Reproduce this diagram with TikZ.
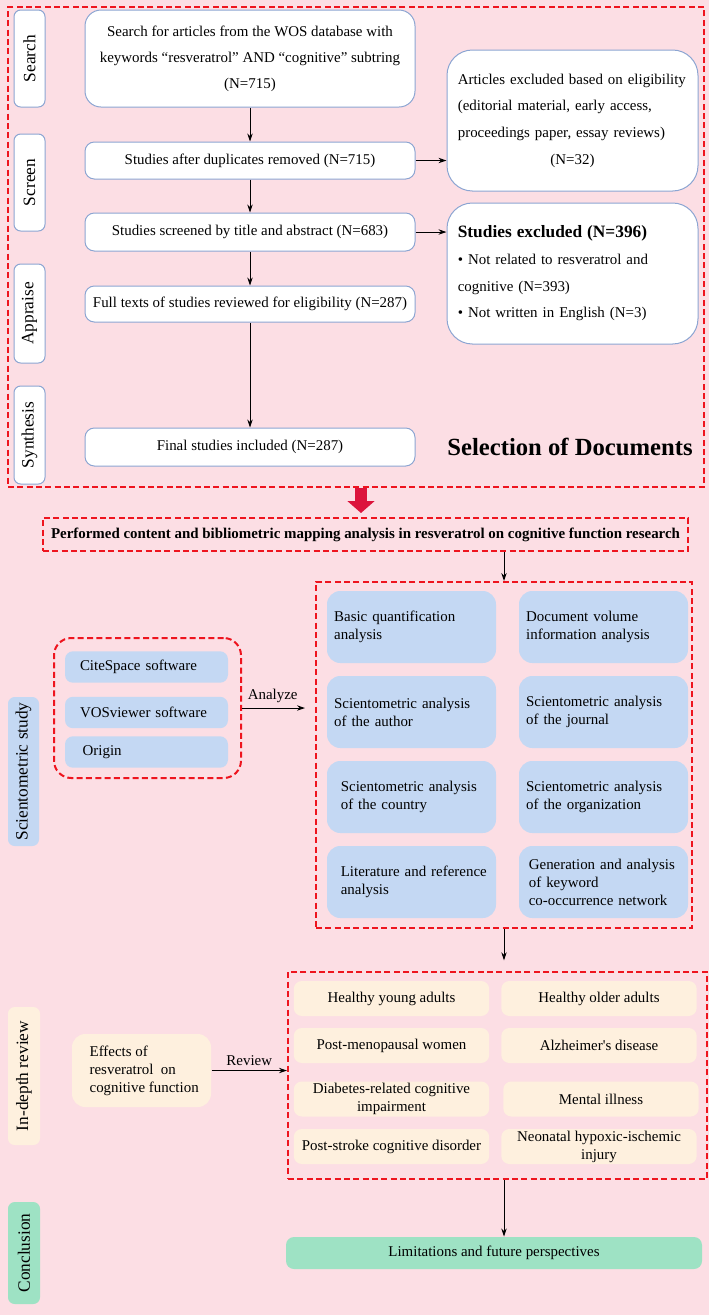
\documentclass[tikz,border=0pt]{standalone}
\usepackage{fontspec}
\setmainfont{Liberation Serif}
\usetikzlibrary{arrows.meta}

\definecolor{bgpink}{RGB}{252,222,228}
\definecolor{framered}{RGB}{238,20,30}
\definecolor{arrowred}{RGB}{220,20,60}
\definecolor{boxblue}{RGB}{196,216,243}
\definecolor{boxbeige}{RGB}{254,240,222}
\definecolor{boxgreen}{RGB}{158,226,196}
\definecolor{edgeblue}{RGB}{140,165,210}

\newcommand{\nohyph}{\hyphenpenalty 10000\relax}

\tikzset{every picture/.style={line width=0.75pt}}
\tikzset{
  bodyfont/.style={font=\fontsize{11.2}{13.5}\selectfont\nohyph},
  whitebox/.style={draw=edgeblue, fill=white, rounded corners=7pt, inner sep=0pt, align=center, bodyfont},
  roundbox/.style={whitebox, rounded corners=19pt},
  stagebox/.style={rounded corners=5pt, inner sep=0pt, rotate=90, minimum height=23.25pt, font=\fontsize{13}{15}\selectfont},
  redframe/.style={draw=framered, line width=1.5pt, dash pattern={on 4.5pt off 2.5pt}, inner sep=0pt},
  bluebox/.style={fill=boxblue, rounded corners=10pt, inner sep=0pt, minimum width=126.75pt, minimum height=54pt, text width=116pt, align=left, bodyfont},
  softbox/.style={fill=boxblue, rounded corners=6pt, inner sep=0pt, minimum width=122.25pt, minimum height=23.6pt, text width=99.75pt, align=left, bodyfont},
  beigebox/.style={fill=boxbeige, rounded corners=6pt, inner sep=0pt, minimum width=146.5pt, minimum height=26.25pt, align=center, bodyfont},
  arr/.style={-{Stealth[length=6pt,width=4pt]}, line width=0.75pt},
}

\begin{document}
\begin{tikzpicture}[x=0.75pt,y=0.75pt,yscale=-1,xscale=1]
%set diagram left start at 0, and has height of 1315
\fill[bgpink] (0,0) rectangle (709,1315);
\useasboundingbox (0,0) rectangle (709,1315);

%Shape: Rectangle [selection frame]
\node[redframe, minimum width=522pt, minimum height=360pt] (selframe) at (356,247) {};

%Stage labels (top)
\node[stagebox, draw=edgeblue, fill=white, minimum width=72.75pt] (stsearch) at (29.5,58.5) {Search};
\node[stagebox, draw=edgeblue, fill=white, minimum width=72.75pt] (stscreen) at (29.5,182.5) {Screen};
\node[stagebox, draw=edgeblue, fill=white, minimum width=74.25pt] (stappraise) at (29.5,313.5) {Appraise};
\node[stagebox, draw=edgeblue, fill=white, minimum width=73.5pt] (stsynth) at (29.5,435) {Synthesis};

%Flow boxes
\node[whitebox, rounded corners=12pt, minimum width=247.5pt, minimum height=72.75pt, font=\fontsize{11.2}{19.5}\selectfont] (search) at (250,58.5) {Search for articles from the WOS database with\\ keywords “resveratrol” AND “cognitive” subtring\\ (N=715)};
\node[whitebox, minimum width=247.5pt, minimum height=27.75pt] (dup) at (250,160.5) {Studies after duplicates removed (N=715)};
\node[whitebox, minimum width=247.5pt, minimum height=28.5pt] (screened) at (250,232) {Studies screened by title and abstract (N=683)};
\node[whitebox, minimum width=247.5pt, minimum height=27pt] (fulltext) at (250,304) {Full texts of studies reviewed for eligibility (N=287)};
\node[whitebox, minimum width=247.5pt, minimum height=28.5pt] (final) at (250,447) {Final studies included (N=287)};

%Excluded boxes
\node[roundbox, minimum width=188.25pt, minimum height=105.75pt, text width=172pt, align=left, font=\fontsize{11.2}{20}\selectfont] (excla) at (572.5,120.5) {Articles excluded based on eligibility\\ (editorial material, early access,\\ proceedings paper, essay reviews)\\ \makebox[\linewidth]{(N=32)}};
\node[roundbox, minimum width=188.25pt, minimum height=105.75pt, text width=172pt, align=left, font=\fontsize{11.2}{20}\selectfont] (exclb) at (572.5,273.5) {{\bfseries\fontsize{13}{20}\selectfont Studies excluded (N=396)}\\ • Not related to resveratrol and\\ cognitive (N=393)\\ • Not written in English (N=3)};

% Text Node
\node[font=\bfseries\fontsize{18.5}{20}\selectfont] (seltitle) at (570,447) {Selection of Documents};

\draw[arr] (search) -- (dup);
\draw[arr] (dup) -- (screened);
\draw[arr] (screened) -- (fulltext);
\draw[arr] (fulltext) -- (final);
\draw[arr] (dup.east) -- (dup.east -| excla.west);
\draw[arr] (screened.east) -- (screened.east -| exclb.west);

%Performed analysis
\node[redframe, minimum width=483.75pt, minimum height=24.75pt, font=\bfseries\fontsize{11.2}{13}\selectfont] (perf) at (365.5,534.5) {Performed content and bibliometric mapping analysis in resveratrol on cognitive function research};
\coordinate (bigx) at (361,0);
\draw[arrowred, line width=9pt, -{Triangle[width=20pt,length=9pt]}, shorten >=3pt] (selframe.south -| bigx) -- (perf.north -| bigx);

%Scientometric study
\node[stagebox, fill=boxblue, minimum width=111.75pt] (stsci) at (23.5,771.5) {Scientometric study};
\node[redframe, rounded corners=13pt, minimum width=140.25pt, minimum height=105pt] (tools) at (147.5,708) {};
\node[softbox] (citespace) at (146.5,667) {CiteSpace software};
\node[softbox] (vosviewer) at (146.5,712.5) {VOSviewer software};
\node[softbox] (origin) at (146.5,752) {\hspace*{2pt}Origin};

\node[redframe, minimum width=282pt, minimum height=259.5pt] (anaframe) at (504,755) {};
\node[bluebox] (basic) at (411.5,627) {Basic quantification\\ analysis};
\node[bluebox] (volume) at (603.5,627) {Document volume\\ information analysis};
\node[bluebox] (author) at (411.5,712) {Scientometric analysis\\ of the author};
\node[bluebox] (journal) at (603.5,712) {Scientometric analysis\\ of the journal};
\node[bluebox] (country) at (411.5,797) {\hspace*{5pt}Scientometric analysis\\ \hspace*{5pt}of the country};
\node[bluebox] (organ) at (603.5,797) {Scientometric analysis\\ of the organization};
\node[bluebox] (literature) at (411.5,882) {\hspace*{5pt}Literature and reference\\ \hspace*{5pt}analysis};
\node[bluebox] (keyword) at (603.5,882) {\hspace*{2pt}Generation and analysis\\ \hspace*{2pt}of keyword\\ \hspace*{2pt}co-occurrence network};

\draw[arr] (anaframe.north |- perf.south) -- (anaframe.north);
\draw[arr, shorten >=7.5pt] (tools.east) -- (tools.east -| anaframe.west) node[pos=0.42, above, bodyfont] {Analyze};

%In-depth review
\node[stagebox, fill=boxbeige, minimum width=103.5pt, minimum height=24pt] (streview) at (24,1076) {In-depth review};
\node[fill=boxbeige, rounded corners=10pt, inner sep=0pt, minimum width=104.25pt, minimum height=54.75pt, align=left, bodyfont] (effects) at (141.5,1070.5) {\hspace*{4pt}Effects of\\ \hspace*{4pt}resveratrol\ \ on\\ \hspace*{4pt}cognitive function};

\node[redframe, minimum width=314.25pt, minimum height=155.25pt] (revframe) at (497.5,1075.5) {};
\node[beigebox] (young) at (391.5,998.5) {Healthy young adults};
\node[beigebox] (older) at (599,998.5) {Healthy older adults};
\node[beigebox] (meno) at (391.5,1045.5) {Post-menopausal women};
\node[beigebox] (alz) at (599,1045.5) {Alzheimer\textquotesingle s disease};
\node[beigebox] (diab) at (391.5,1099) {Diabetes-related cognitive\\ impairment};
\node[beigebox] (mental) at (601,1099) {Mental illness};
\node[beigebox] (stroke) at (391.5,1146.5) {Post-stroke cognitive disorder};
\node[beigebox] (neonatal) at (599,1146.5) {Neonatal hypoxic-ischemic\\ injury};

\draw[arr, shorten >=8pt] (anaframe.south) -- (anaframe.south |- revframe.north);
\draw[arr] (effects.east) -- (effects.east -| revframe.west) node[pos=0.5, above, bodyfont] {Review};

%Conclusion
\node[stagebox, fill=boxgreen, minimum width=76.5pt, minimum height=24pt] (stconc) at (24,1253) {Conclusion};
\node[fill=boxgreen, rounded corners=6pt, inner sep=0pt, minimum width=312pt, minimum height=24pt, bodyfont] (limit) at (494,1253) {Limitations and future perspectives};

\draw[arr] (revframe.south -| anaframe.south) -- (limit.north -| anaframe.south);

\end{tikzpicture}
\end{document}
